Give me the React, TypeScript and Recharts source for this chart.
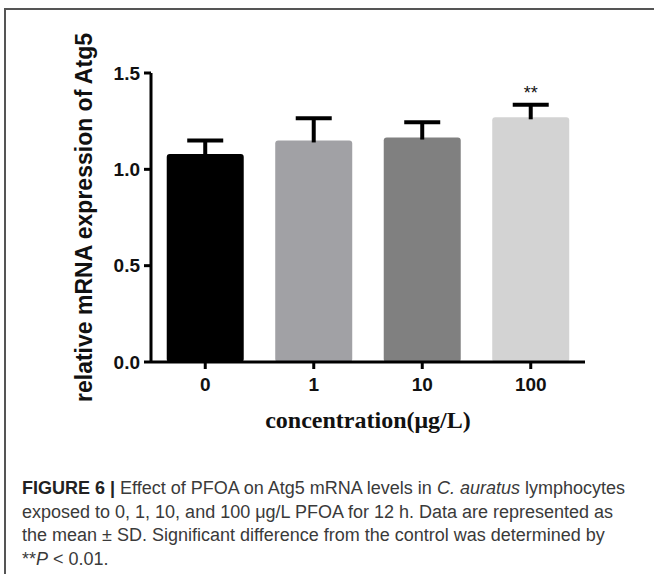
import React from "react"
import { Bar, BarChart, Cell, Label, XAxis, YAxis } from "recharts"

// concentrations (µg/L) and measured relative Atg5 expression
const concentrations = ["0", "1", "10", "100"]
const means = [1.08, 1.15, 1.165, 1.27]
const sds = [0.07, 0.115, 0.08, 0.065]
const marks = ["", "", "", "**"]
const fills = ["#000000", "#a1a1a5", "#808080", "#d3d3d3"]
const yTicks = [0, 0.5, 1.0, 1.5]

const data = concentrations.map((c, i) => ({
  conc: c,
  mean: means[i],
  sd: sds[i],
  mark: marks[i],
}))

const tickStyle = {
  fill: "#111",
  fontSize: 19,
  fontWeight: 700,
  fontFamily: "Liberation Sans, Arial, sans-serif",
}

// bar + upward-only SD whisker, scaled from the bar's own pixel height
function BarWithError(props: any) {
  const { x, y, width, height, fill, payload } = props
  const pxPerUnit = height / payload.mean
  const top = y - payload.sd * pxPerUnit
  const cx = x + width / 2
  const capW = 36
  return (
    <g>
      <rect x={x} y={y} width={width} height={height} fill={fill} rx={3} ry={3} />
      <line x1={cx} x2={cx} y1={y + 2} y2={top} stroke="#000" strokeWidth={4} />
      <line x1={cx - capW / 2} x2={cx + capW / 2} y1={top} y2={top} stroke="#000" strokeWidth={4} />
      {payload.mark ? (
        <text
          x={cx}
          y={top - 6}
          textAnchor="middle"
          fontSize={18}
          fontFamily="Liberation Sans, Arial, sans-serif"
          fill="#111"
        >
          {payload.mark}
        </text>
      ) : null}
    </g>
  )
}

export default function App() {
  return (
    <div style={{ position: "relative", width: 654, height: 574, background: "#fff", overflow: "hidden" }}>
      <style>{"body{margin:0}"}</style>
      {/* frame edges */}
      <div style={{ position: "absolute", left: 4, top: 8, width: 650, height: 2, background: "#555" }} />
      <div style={{ position: "absolute", left: 4, top: 8, width: 2, height: 566, background: "#555" }} />

      <div style={{ position: "absolute", left: 0, top: 0 }}>
        <BarChart
          width={654}
          height={450}
          data={data}
          margin={{ top: 73, right: 69, left: 91, bottom: 58 }}
          barCategoryGap="14.5%"
        >
          <XAxis
            dataKey="conc"
            axisLine={{ stroke: "#000", strokeWidth: 3 }}
            tickLine={{ stroke: "#000", strokeWidth: 3 }}
            tickSize={7}
            tickMargin={9}
            tick={tickStyle}
            height={30}
            padding={{ left: 0, right: 0 }}
          >
            <Label
              value="concentration(μg/L)"
              position="bottom"
              offset={19}
              style={{
                fill: "#111",
                fontSize: 24,
                fontWeight: 700,
                fontFamily: "Liberation Serif, Times New Roman, serif",
              }}
            />
          </XAxis>
          <YAxis
            domain={[0, 1.5]}
            ticks={yTicks}
            tickFormatter={(v: number) => v.toFixed(1)}
            axisLine={{ stroke: "#000", strokeWidth: 3 }}
            tickLine={{ stroke: "#000", strokeWidth: 3 }}
            tickSize={7}
            tickMargin={4}
            tick={tickStyle}
            width={60}
            interval={0}
          >
            <Label
              value="relative mRNA expression of Atg5"
              angle={-90}
              position="insideLeft"
              offset={-7}
              style={{
                textAnchor: "middle",
                fill: "#111",
                fontSize: 23,
                fontWeight: 700,
                fontFamily: "Liberation Sans, Arial, sans-serif",
              }}
            />
          </YAxis>
          <Bar dataKey="mean" isAnimationActive={false} shape={<BarWithError />}>
            {data.map((d, i) => (
              <Cell key={d.conc} fill={fills[i]} />
            ))}
          </Bar>
        </BarChart>
      </div>

      <div
        style={{
          position: "absolute",
          left: 22,
          top: 477,
          width: 630,
          fontFamily: "Liberation Sans, Arial, sans-serif",
          fontSize: 18,
          lineHeight: "23.5px",
          color: "#3a3a3a",
          whiteSpace: "nowrap",
        }}
      >
        <div>
          <b style={{ color: "#222" }}>FIGURE 6 |</b> Effect of PFOA on Atg5 mRNA levels in <i>C. auratus</i> lymphocytes
        </div>
        <div>exposed to 0, 1, 10, and 100 μg/L PFOA for 12 h. Data are represented as</div>
        <div>the mean ± SD. Significant difference from the control was determined by</div>
        <div>
          **<i>P</i> &lt; 0.01.
        </div>
      </div>
    </div>
  )
}
